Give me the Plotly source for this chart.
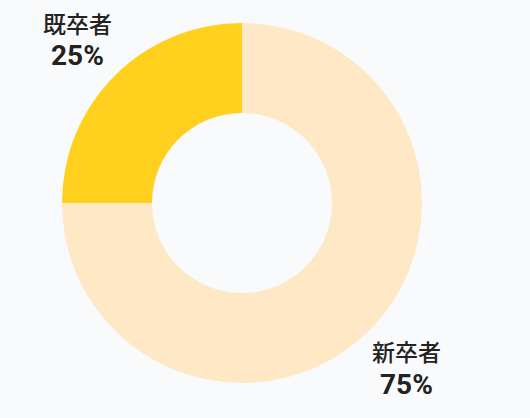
import numpy as np
import plotly.graph_objects as go

labels = ["新卒者", "既卒者"]
values = [75, 25]
colors = ["#FFE8C5", "#FFD01E"]

W, H = 530, 418
cx, cy, R = 242, 203, 180

fig = go.Figure()
fig.add_trace(go.Pie(
    labels=labels, values=values, hole=0.5, sort=False, direction="clockwise",
    rotation=0, marker=dict(colors=colors, line=dict(width=0)),
    textinfo="none", hoverinfo="label+percent", showlegend=False,
    domain=dict(x=[(cx - R) / W, (cx + R) / W], y=[(H - cy - R) / H, (H - cy + R) / H]),
))

# labels outside each slice, on the slice's mid angle
total = sum(values)
start = 0.0
for lab, v in zip(labels, values):
    mid = (start + v / 2) / total * 2 * np.pi
    start += v
    r = 1.29 * R
    x = cx + r * np.sin(mid)
    y = cy - r * np.cos(mid)
    fig.add_annotation(
        x=x / W, y=1 - (y - 16) / H, xref="paper", yref="paper",
        xanchor="center", yanchor="middle",
        text=lab, showarrow=False,
        font=dict(family="Noto Sans CJK JP", size=23, color="#222222", weight=500),
    )
    fig.add_annotation(
        x=x / W, y=1 - (y + 17) / H, xref="paper", yref="paper",
        xanchor="center", yanchor="middle",
        text=f"{round(v / total * 100)}%", showarrow=False,
        font=dict(family="Roboto", size=28, color="#222222", weight="bold"),
    )

fig.update_layout(
    width=W, height=H, margin=dict(l=0, r=0, t=0, b=0),
    paper_bgcolor="#F9FAFC", plot_bgcolor="#F9FAFC",
)
fig.write_html("out.html", config={"displayModeBar": False},
               post_script="document.body.style.margin='0';document.body.style.background='#F9FAFC';")
